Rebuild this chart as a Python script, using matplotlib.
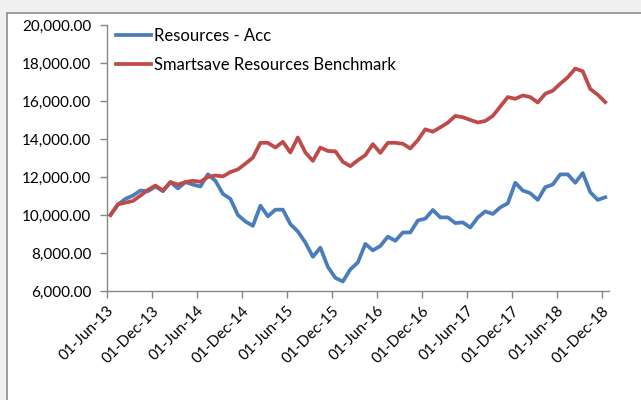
import numpy as np
import pandas as pd
import matplotlib
matplotlib.use("Agg")
import matplotlib.pyplot as plt
from matplotlib.patches import Rectangle
from matplotlib.ticker import FuncFormatter

# monthly values, Jun-2013 .. Dec-2018
fund = [10000, 10550, 10850, 11020, 11290, 11250, 11500, 11250, 11730, 11400,
        11730, 11600, 11500, 12140, 11800, 11110, 10850, 10000, 9660, 9430,
        10490, 9930, 10280, 10280, 9520, 9130, 8550, 7800, 8280, 7270,
        6690, 6500, 7140, 7500, 8480, 8140, 8370, 8860, 8640, 9080,
        9080, 9710, 9810, 10265, 9873, 9873, 9575, 9610, 9342, 9870,
        10191, 10053, 10403, 10615, 11697, 11289, 11146, 10796, 11464, 11607,
        12138, 12138, 11697, 12207, 11199, 10796, 10934]
bench = [10000, 10560, 10650, 10740, 11020, 11320, 11550, 11290, 11730, 11600,
         11730, 11800, 11750, 12000, 12080, 12030, 12260, 12400, 12700, 13020,
         13800, 13800, 13550, 13850, 13290, 14080, 13290, 12850, 13550, 13370,
         13350, 12800, 12570, 12880, 13150, 13730, 13270, 13800, 13800, 13750,
         13500, 13940, 14510, 14382, 14615, 14860, 15215, 15146, 15003, 14870,
         14950, 15215, 15710, 16207, 16117, 16292, 16207, 15920, 16382, 16541,
         16912, 17247, 17708, 17565, 16631, 16329, 15941]
dates = pd.date_range("2013-06-01", periods=len(fund), freq="MS")
tick_idx = list(range(0, len(fund), 6))
tick_labels = [dates[i].strftime("%d-%b-%y") for i in tick_idx]

plt.rcParams['font.family'] = ['Lato', 'DejaVu Sans']

fig = plt.figure(figsize=(6.41, 4.0), dpi=100, facecolor="#f0f0f0")
fig.patches.append(Rectangle((6.5 / 641, -0.01), 1.0, 1 - 12.5 / 400 + 0.01,
                             transform=fig.transFigure, facecolor="white",
                             edgecolor="#8c8c8c", linewidth=1.2, zorder=-5))

ax = fig.add_axes([106.7 / 641, 1 - 291 / 400, (609 - 106.7) / 641, (291 - 25) / 400])
ax.set_facecolor("none")

x = np.arange(len(fund)) + 0.5
ax.plot(x, fund, color="#4a7ebb", lw=2.7, label="Resources - Acc", solid_joinstyle="round")
ax.plot(x, bench, color="#be4b48", lw=2.7, label="Smartsave Resources Benchmark", solid_joinstyle="round")

ax.set_xlim(0, len(fund))
ax.set_ylim(6000, 20000)
ax.set_yticks(range(6000, 20001, 2000))
ax.yaxis.set_major_formatter(FuncFormatter(lambda v, p: f"{v:,.2f}"))
ax.set_xticks(tick_idx)
ax.set_xticklabels(tick_labels, rotation=45, ha="right", rotation_mode="anchor")

for s in ["top", "right"]:
    ax.spines[s].set_visible(False)
for s in ["left", "bottom"]:
    ax.spines[s].set_color("#868686")
    ax.spines[s].set_linewidth(1.0)
ax.tick_params(axis="both", colors="#868686", labelcolor="black", labelsize=11, length=5, width=1)
ax.tick_params(axis="y", pad=6)
ax.tick_params(axis="x", pad=4)

ax.legend(loc="upper left", bbox_to_anchor=(116 / 641, 1 - 28 / 400), bbox_transform=fig.transFigure,
          frameon=False, fontsize=12, handlelength=2.1, handletextpad=0.2, labelspacing=0.8,
          borderaxespad=0, borderpad=0)

fig.savefig("out.png", dpi=100, facecolor=fig.get_facecolor())
